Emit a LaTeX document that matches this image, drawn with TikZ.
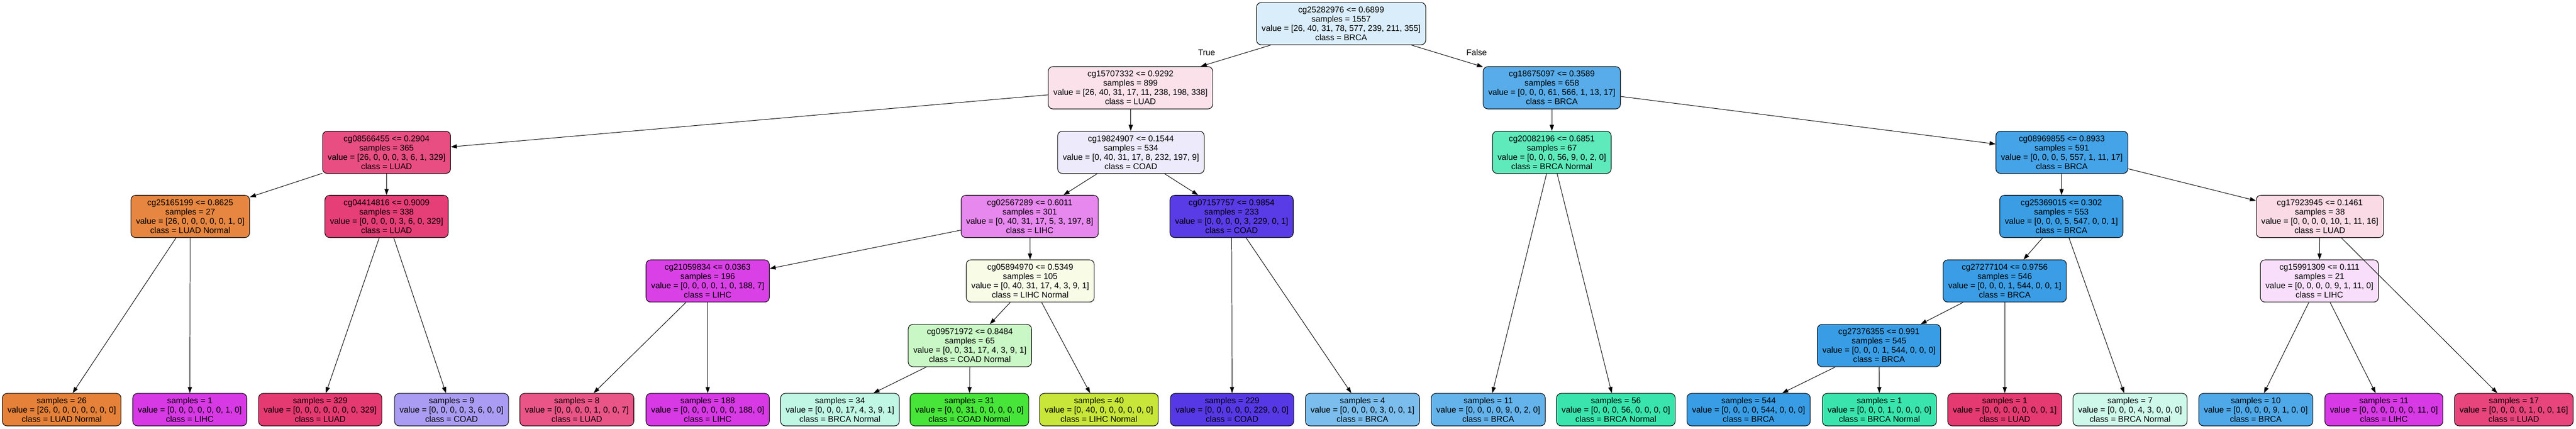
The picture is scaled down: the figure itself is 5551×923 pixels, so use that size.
\documentclass[tikz,border=0pt]{standalone}
\usepackage{fontspec}
\setmainfont{Liberation Sans}
\usetikzlibrary{arrows.meta}
\newcommand\nodefont{\fontsize{18}{20}\selectfont}
\definecolor{cRoot}{RGB}{218,237,250}
\definecolor{cA}{RGB}{251,225,234}
\definecolor{cB}{RGB}{88,172,233}
\definecolor{cC}{RGB}{232,78,129}
\definecolor{cD}{RGB}{237,234,252}
\definecolor{cE}{RGB}{95,234,188}
\definecolor{cF}{RGB}{69,163,231}
\definecolor{cG}{RGB}{230,134,65}
\definecolor{cH}{RGB}{230,62,118}
\definecolor{cI}{RGB}{231,136,239}
\definecolor{cJ}{RGB}{89,60,229}
\definecolor{cK}{RGB}{59,158,229}
\definecolor{cL}{RGB}{250,218,229}
\definecolor{cM}{RGB}{217,65,230}
\definecolor{cN}{RGB}{248,252,231}
\definecolor{cO}{RGB}{58,157,229}
\definecolor{cP}{RGB}{248,222,251}
\definecolor{cQ}{RGB}{201,247,197}
\definecolor{cR}{RGB}{57,157,229}
\definecolor{luadn}{RGB}{229,129,57}
\definecolor{lihcn}{RGB}{200,229,57}
\definecolor{coadn}{RGB}{71,229,57}
\definecolor{brcan}{RGB}{57,229,172}
\definecolor{brca}{RGB}{57,157,229}
\definecolor{coad}{RGB}{86,57,229}
\definecolor{lihc}{RGB}{215,57,229}
\definecolor{luad}{RGB}{229,57,114}
\definecolor{l4}{RGB}{170,156,242}
\definecolor{l5}{RGB}{233,85,134}
\definecolor{l7}{RGB}{192,247,228}
\definecolor{l11}{RGB}{123,190,238}
\definecolor{l12}{RGB}{101,179,235}
\definecolor{l17}{RGB}{206,248,234}
\definecolor{l18}{RGB}{79,168,232}
\definecolor{l20}{RGB}{231,69,123}
\tikzset{
  tn/.style={draw=black, line width=1.2pt, rounded corners=10pt, align=center,
    font=\nodefont, inner xsep=11pt, inner ysep=0pt, minimum height=91pt},
  lf/.style={tn, minimum height=70pt},
  ed/.style={-{Triangle[length=13pt,width=9pt]}, line width=1.1pt},
  lab/.style={font=\nodefont, inner sep=0pt}
}
\begin{document}
\begin{tikzpicture}[x=1pt,y=-1pt]
\useasboundingbox (0,0) rectangle (5551,923);
% level 0
\node[tn, fill=cRoot] (n0) at (2890,51) {cg25282976 <= 0.6899\\samples = 1557\\value = [26, 40, 31, 78, 577, 239, 211, 355]\\class = BRCA};
% level 1
\node[tn, fill=cA] (n1) at (2436,189) {cg15707332 <= 0.9292\\samples = 899\\value = [26, 40, 31, 17, 11, 238, 198, 338]\\class = LUAD};
\node[tn, fill=cB] (n2) at (3344,189) {cg18675097 <= 0.3589\\samples = 658\\value = [0, 0, 0, 61, 566, 1, 13, 17]\\class = BRCA};
% level 2
\node[tn, fill=cC] (n3) at (833,328) {cg08566455 <= 0.2904\\samples = 365\\value = [26, 0, 0, 0, 3, 6, 1, 329]\\class = LUAD};
\node[tn, fill=cD] (n4) at (2437,328) {cg19824907 <= 0.1544\\samples = 534\\value = [0, 40, 31, 17, 8, 232, 197, 9]\\class = COAD};
\node[tn, fill=cE] (n5) at (3344,328) {cg20082196 <= 0.6851\\samples = 67\\value = [0, 0, 0, 56, 9, 0, 2, 0]\\class = BRCA Normal};
\node[tn, fill=cF] (n6) at (4443,328) {cg08969855 <= 0.8933\\samples = 591\\value = [0, 0, 0, 5, 557, 1, 11, 17]\\class = BRCA};
% level 3
\node[tn, fill=cG] (n7) at (410,466) {cg25165199 <= 0.8625\\samples = 27\\value = [26, 0, 0, 0, 0, 0, 1, 0]\\class = LUAD Normal};
\node[tn, fill=cH] (n8) at (833,466) {cg04414816 <= 0.9009\\samples = 338\\value = [0, 0, 0, 0, 3, 6, 0, 329]\\class = LUAD};
\node[tn, fill=cI] (n9) at (2219,466) {cg02567289 <= 0.6011\\samples = 301\\value = [0, 40, 31, 17, 5, 3, 197, 8]\\class = LIHC};
\node[tn, fill=cJ] (n10) at (2654,466) {cg07157757 <= 0.9854\\samples = 233\\value = [0, 0, 0, 0, 3, 229, 0, 1]\\class = COAD};
\node[tn, fill=cK] (n11) at (4442,466) {cg25369015 <= 0.302\\samples = 553\\value = [0, 0, 0, 5, 547, 0, 0, 1]\\class = BRCA};
\node[tn, fill=cL] (n12) at (4999,466) {cg17923945 <= 0.1461\\samples = 38\\value = [0, 0, 0, 0, 10, 1, 11, 16]\\class = LUAD};
% level 4
\node[tn, fill=cM] (n13) at (1525,605) {cg21059834 <= 0.0363\\samples = 196\\value = [0, 0, 0, 0, 1, 0, 188, 7]\\class = LIHC};
\node[tn, fill=cN] (n14) at (2220,605) {cg05894970 <= 0.5349\\samples = 105\\value = [0, 40, 31, 17, 4, 3, 9, 1]\\class = LIHC Normal};
\node[tn, fill=cO] (n15) at (4320,605) {cg27277104 <= 0.9756\\samples = 546\\value = [0, 0, 0, 1, 544, 0, 0, 1]\\class = BRCA};
\node[tn, fill=cP] (n16) at (4998,605) {cg15991309 <= 0.111\\samples = 21\\value = [0, 0, 0, 0, 9, 1, 11, 0]\\class = LIHC};
% level 5
\node[tn, fill=cQ] (n17) at (2090,744) {cg09571972 <= 0.8484\\samples = 65\\value = [0, 0, 31, 17, 4, 3, 9, 1]\\class = COAD Normal};
\node[tn, fill=cR] (n18) at (4049,744) {cg27376355 <= 0.991\\samples = 545\\value = [0, 0, 0, 1, 544, 0, 0, 0]\\class = BRCA};
% leaves
\node[lf, fill=luadn] (f1) at (133,882) {samples = 26\\value = [26, 0, 0, 0, 0, 0, 0, 0]\\class = LUAD Normal};
\node[lf, fill=lihc] (f2) at (409,882) {samples = 1\\value = [0, 0, 0, 0, 0, 0, 1, 0]\\class = LIHC};
\node[lf, fill=luad] (f3) at (690,882) {samples = 329\\value = [0, 0, 0, 0, 0, 0, 0, 329]\\class = LUAD};
\node[lf, fill=l4] (f4) at (973,882) {samples = 9\\value = [0, 0, 0, 0, 3, 6, 0, 0]\\class = COAD};
\node[lf, fill=l5] (f5) at (1243,882) {samples = 8\\value = [0, 0, 0, 0, 1, 0, 0, 7]\\class = LUAD};
\node[lf, fill=lihc] (f6) at (1525,882) {samples = 188\\value = [0, 0, 0, 0, 0, 0, 188, 0]\\class = LIHC};
\node[lf, fill=l7] (f7) at (1810,882) {samples = 34\\value = [0, 0, 0, 17, 4, 3, 9, 1]\\class = BRCA Normal};
\node[lf, fill=coadn] (f8) at (2089,882) {samples = 31\\value = [0, 0, 31, 0, 0, 0, 0, 0]\\class = COAD Normal};
\node[lf, fill=lihcn] (f9) at (2368,882) {samples = 40\\value = [0, 40, 0, 0, 0, 0, 0, 0]\\class = LIHC Normal};
\node[lf, fill=coad] (f10) at (2655,882) {samples = 229\\value = [0, 0, 0, 0, 0, 229, 0, 0]\\class = COAD};
\node[lf, fill=l11] (f11) at (2936,882) {samples = 4\\value = [0, 0, 0, 0, 3, 0, 0, 1]\\class = BRCA};
\node[lf, fill=l12] (f12) at (3207,882) {samples = 11\\value = [0, 0, 0, 0, 9, 0, 2, 0]\\class = BRCA};
\node[lf, fill=brcan] (f13) at (3482,882) {samples = 56\\value = [0, 0, 0, 56, 0, 0, 0, 0]\\class = BRCA Normal};
\node[lf, fill=brca] (f14) at (3768,882) {samples = 544\\value = [0, 0, 0, 0, 544, 0, 0, 0]\\class = BRCA};
\node[lf, fill=brcan] (f15) at (4050,882) {samples = 1\\value = [0, 0, 0, 1, 0, 0, 0, 0]\\class = BRCA Normal};
\node[lf, fill=luad] (f16) at (4320,882) {samples = 1\\value = [0, 0, 0, 0, 0, 0, 0, 1]\\class = LUAD};
\node[lf, fill=l17] (f17) at (4590,882) {samples = 7\\value = [0, 0, 0, 4, 3, 0, 0, 0]\\class = BRCA Normal};
\node[lf, fill=l18] (f18) at (4861,882) {samples = 10\\value = [0, 0, 0, 0, 9, 1, 0, 0]\\class = BRCA};
\node[lf, fill=lihc] (f19) at (5137,882) {samples = 11\\value = [0, 0, 0, 0, 0, 0, 11, 0]\\class = LIHC};
\node[lf, fill=l20] (f20) at (5417,882) {samples = 17\\value = [0, 0, 0, 0, 1, 0, 0, 16]\\class = LUAD};
% labels
\node[lab] (tl) at (2600,113) {True};
\node[lab] (fl) at (3182,113) {False};
% edges
\draw[ed] (n0) -- (n1);
\draw[ed] (n0) -- (n2);
\draw[ed] (n1) -- (n3);
\draw[ed] (n1) -- (n4);
\draw[ed] (n3) -- (n7);
\draw[ed] (n3) -- (n8);
\draw[ed] (n7) -- (f1);
\draw[ed] (n7) -- (f2);
\draw[ed] (n8) -- (f3);
\draw[ed] (n8) -- (f4);
\draw[ed] (n4) -- (n9);
\draw[ed] (n4) -- (n10);
\draw[ed] (n9) -- (n13);
\draw[ed] (n9) -- (n14);
\draw[ed] (n13) -- (f5);
\draw[ed] (n13) -- (f6);
\draw[ed] (n14) -- (n17);
\draw[ed] (n14) -- (f9);
\draw[ed] (n17) -- (f7);
\draw[ed] (n17) -- (f8);
\draw[ed] (n10) -- (f10);
\draw[ed] (n10) -- (f11);
\draw[ed] (n2) -- (n5);
\draw[ed] (n2) -- (n6);
\draw[ed] (n5) -- (f12);
\draw[ed] (n5) -- (f13);
\draw[ed] (n6) -- (n11);
\draw[ed] (n6) -- (n12);
\draw[ed] (n11) -- (n15);
\draw[ed] (n11) -- (f17);
\draw[ed] (n15) -- (n18);
\draw[ed] (n15) -- (f16);
\draw[ed] (n18) -- (f14);
\draw[ed] (n18) -- (f15);
\draw[ed] (n12) -- (n16);
\draw[ed] (n12) -- (f20);
\draw[ed] (n16) -- (f18);
\draw[ed] (n16) -- (f19);
\end{tikzpicture}
\end{document}
